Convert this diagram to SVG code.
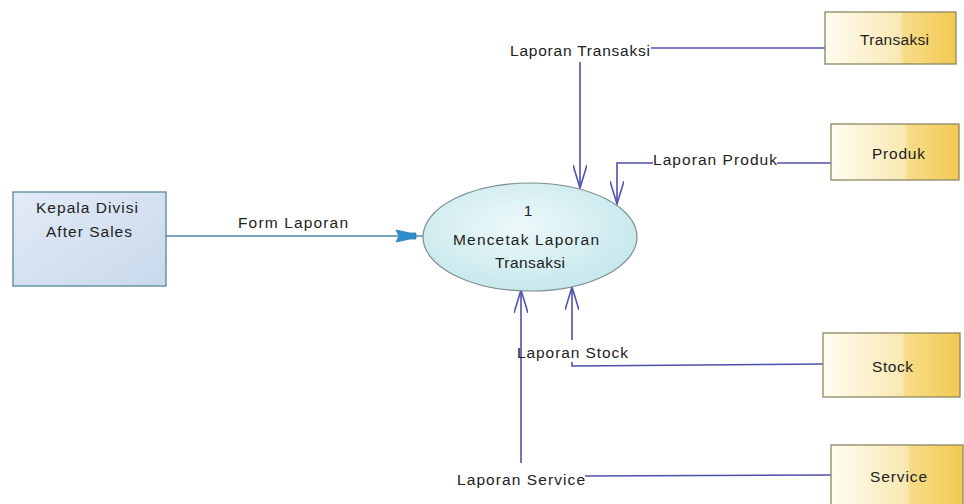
<svg xmlns="http://www.w3.org/2000/svg" width="964" height="504" viewBox="0 0 964 504">
  <defs>
    <linearGradient id="storeFill" x1="0" y1="0" x2="1" y2="0">
      <stop offset="0" stop-color="#fffdf2"/>
      <stop offset="0.58" stop-color="#f9e8b2"/>
      <stop offset="0.6" stop-color="#f7dc88"/>
      <stop offset="1" stop-color="#f3c952"/>
    </linearGradient>
    <linearGradient id="entityFill" x1="0" y1="0" x2="1" y2="1">
      <stop offset="0" stop-color="#e3ebf6"/>
      <stop offset="1" stop-color="#c8d8ec"/>
    </linearGradient>
    <radialGradient id="procFill" cx="0.45" cy="0.4" r="0.7">
      <stop offset="0" stop-color="#eef9fa"/>
      <stop offset="1" stop-color="#bfe5ea"/>
    </radialGradient>
    <!-- open V arrowhead, drawn along +x so orient="auto" follows the line -->
    <marker id="openArrow" viewBox="0 0 24 14" refX="23" refY="7" markerWidth="24" markerHeight="14" markerUnits="userSpaceOnUse" orient="auto">
      <path d="M0 0 L23 7 L0 14" fill="none" stroke="#5252b4" stroke-width="1.6"/>
    </marker>
  </defs>
  <style>
    text { font-family: "Liberation Sans", Arial, sans-serif; font-size: 15.5px; fill: #222; }
    .store { fill: url(#storeFill); stroke: #8a8760; stroke-width: 1.3; }
    .flow { fill: none; stroke: #4f4fae; stroke-width: 1.6; }
    .mid { text-anchor: middle; }
  </style>

  <rect x="0" y="0" width="964" height="504" fill="#ffffff"/>

  <!-- data flows -->
  <g id="connectors">
    <!-- Form Laporan -->
    <line x1="166" y1="236" x2="398" y2="236" stroke="#4a86aa" stroke-width="1.6"/>
    <path d="M396 230 L410 233 L416 233 L416 239 L410 239 L396 242 L399 236 Z" fill="#2f8ccc" stroke="#2a7fb8" stroke-width="0.8"/>
    <line x1="416" y1="236" x2="423" y2="236" stroke="#4a86aa" stroke-width="1.4"/>

    <!-- Laporan Transaksi -->
    <line class="flow" x1="651" y1="48" x2="825" y2="48"/>
    <line class="flow" x1="580" y1="62" x2="580" y2="188" marker-end="url(#openArrow)"/>

    <!-- Laporan Produk -->
    <line class="flow" x1="777" y1="163" x2="831" y2="163"/>
    <polyline class="flow" points="653,163 617,163 617,204" marker-end="url(#openArrow)"/>

    <!-- Laporan Stock -->
    <line class="flow" x1="572" y1="340" x2="572" y2="287" marker-end="url(#openArrow)"/>
    <polyline class="flow" points="572,362 572,366 823,364"/>

    <!-- Laporan Service -->
    <line class="flow" x1="585" y1="476" x2="831" y2="475"/>
    <line class="flow" x1="521" y1="463" x2="521" y2="290" marker-end="url(#openArrow)"/>
  </g>

  <!-- flow labels -->
  <g id="flow-labels">
    <text x="238" y="228" textLength="110">Form Laporan</text>
    <text x="510" y="56" textLength="140">Laporan Transaksi</text>
    <text x="653" y="165" textLength="124">Laporan Produk</text>
    <text x="517" y="358" textLength="111">Laporan Stock</text>
    <text x="457" y="485" textLength="128">Laporan Service</text>
  </g>

  <!-- external entity -->
  <g id="kepala-divisi">
    <rect x="13" y="192" width="153" height="94" fill="url(#entityFill)" stroke="#5f8ea2" stroke-width="1.4"/>
    <text x="36" y="213" textLength="102">Kepala Divisi</text>
    <text x="46" y="237" textLength="86">After Sales</text>
  </g>

  <!-- process -->
  <g id="proses-1">
    <ellipse cx="530" cy="237" rx="107" ry="54" fill="url(#procFill)" stroke="#7f8e8e" stroke-width="1.2"/>
    <text x="528" y="216" class="mid">1</text>
    <text x="453" y="245" textLength="146">Mencetak Laporan</text>
    <text x="495" y="268" textLength="70">Transaksi</text>
  </g>

  <!-- data stores -->
  <g id="transaksi">
    <rect class="store" x="825" y="12" width="131" height="52"/>
    <text x="860" y="45" textLength="69">Transaksi</text>
  </g>
  <g id="produk">
    <rect class="store" x="831" y="124" width="128" height="56"/>
    <text x="872" y="159" textLength="53">Produk</text>
  </g>
  <g id="stock">
    <rect class="store" x="823" y="333" width="137" height="64"/>
    <text x="872" y="372" textLength="41">Stock</text>
  </g>
  <g id="service">
    <rect class="store" x="831" y="445" width="132" height="70"/>
    <text x="870" y="482" textLength="57">Service</text>
  </g>
</svg>
